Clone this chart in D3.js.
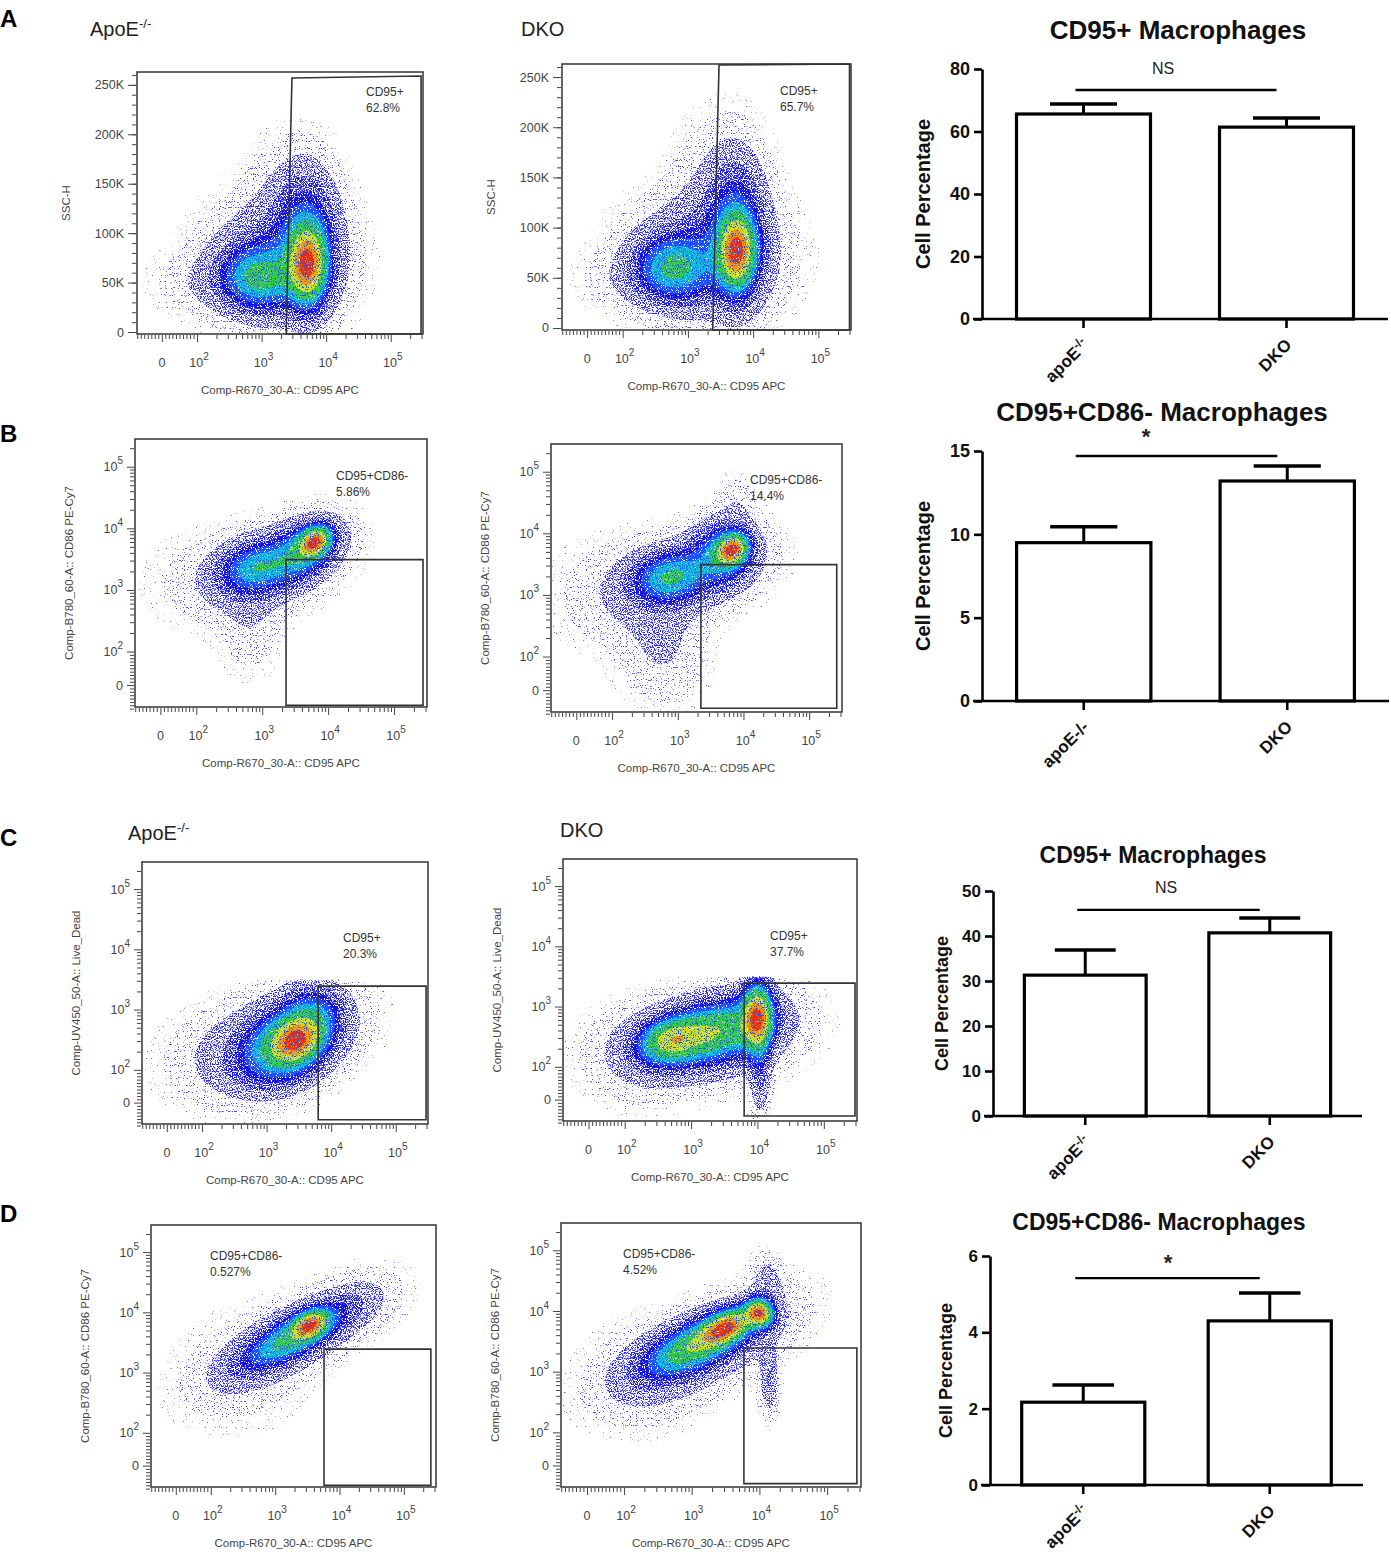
<!DOCTYPE html>
<html>
<head>
<meta charset="utf-8">
<script src="https://cdn.jsdelivr.net/npm/d3@7"></script>
<style>
  body { margin: 0; background: #fff; }
  svg text { font-family: "Liberation Sans", Arial, sans-serif; }
</style>
</head>
<body>
<svg id="fig" width="1391" height="1554"></svg>
<script>
// ---------------- data ----------------

// bar charts (right column)
const groups = ["apoE-/-", "DKO"];
const barTitles = ["CD95+ Macrophages", "CD95+CD86- Macrophages", "CD95+ Macrophages", "CD95+CD86- Macrophages"];
const meansA = [65.6, 61.4], errA = [3.2, 2.9];
const meansB = [9.5, 13.2],  errB = [0.95, 0.9];
const meansC = [31.3, 40.7], errC = [5.6, 3.3];
const meansD = [2.17, 4.30], errD = [0.45, 0.73];
const sigText = ["NS", "*", "NS", "*"];
const sigLevel = [73.3, 14.7, 45.8, 5.42];
const yMax = [80, 15, 50, 6];
const yTicks = [[0, 20, 40, 60, 80], [0, 5, 10, 15], [0, 10, 20, 30, 40, 50], [0, 2, 4, 6]];

// flow plots: names and gate statistics
const xAxisName = "Comp-R670_30-A:: CD95 APC";
const yAxisNames = ["SSC-H", "SSC-H",
  "Comp-B780_60-A:: CD86 PE-Cy7", "Comp-B780_60-A:: CD86 PE-Cy7",
  "Comp-UV450_50-A:: Live_Dead", "Comp-UV450_50-A:: Live_Dead",
  "Comp-B780_60-A:: CD86 PE-Cy7", "Comp-B780_60-A:: CD86 PE-Cy7"];
const gateNames = ["CD95+", "CD95+", "CD95+CD86-", "CD95+CD86-", "CD95+", "CD95+", "CD95+CD86-", "CD95+CD86-"];
const gatePcts = ["62.8%", "65.7%", "5.86%", "14.4%", "20.3%", "37.7%", "0.527%", "4.52%"];

// axis tick values (fluorescence units)
const majorTicks = [0, 100, 1000, 10000, 100000];
const minorMult = [2, 3, 4, 5, 6, 7, 8, 9];
const linearTicks = [-70, -60, -50, -40, -30, -20, -10, 10, 20, 30, 40, 50, 60, 70, 80, 90];
const sscTicks = [0, 10000, 20000, 30000, 40000, 50000, 60000, 70000, 80000, 90000, 100000, 110000, 120000,
  130000, 140000, 150000, 160000, 170000, 180000, 190000, 200000, 210000, 220000, 230000, 240000, 250000, 260000];
const sscLabelled = [0, 50000, 100000, 150000, 200000, 250000];

// gate polygons [CD95, y-parameter]
const gateA1 = [[2400, -2000], [2950, 257000], [295000, 259000], [295000, -2000]];
const gateA2 = [[2400, -2000], [3000, 262000], [300000, 263000], [300000, -2000]];
const gateB1 = [[2300, -60], [2300, 3100], [275000, 3100], [275000, -60]];
const gateB2 = [[2250, -54], [2250, 3100], [263000, 3100], [263000, -54]];
const gateC1 = [[6300, -52], [6300, 2450], [295000, 2450], [295000, -52]];
const gateC2 = [[6300, -50], [6300, 2450], [295000, 2450], [295000, -50]];
const gateD1 = [[5750, -60], [5750, 2450], [263000, 2450], [263000, -60]];
const gateD2 = [[5900, -55], [5900, 2450], [275000, 2450], [275000, -55]];

// event clouds:
// [CD95 centre, y centre, spread x (decades), spread y (decades or SSC units), tilt deg, weight]
const cloudA1 = [
  [5200, 68000, 0.18, 24000, 0, 1.0],
  [5000, 92000, 0.30, 42000, 0, 0.3],
  [890, 55000, 0.36, 20000, 0, 0.45],
  [1600, 70000, 0.65, 38000, 0, 0.2],
  [160, 50000, 0.55, 20000, 0, 0.05],
  [3000, 135000, 0.45, 40000, 0, 0.06]
];
const cloudA2 = [
  [5600, 76000, 0.17, 22000, 0, 1.0],
  [5600, 96000, 0.28, 45000, 0, 0.3],
  [590, 60000, 0.35, 20000, 0, 0.45],
  [1800, 70000, 0.7, 38000, 0, 0.2],
  [150, 50000, 0.5, 20000, 0, 0.05],
  [3000, 140000, 0.45, 45000, 0, 0.06]
];
const cloudB1 = [
  [6300, 6000, 0.16, 0.13, 40, 1.0],
  [4500, 4500, 0.35, 0.25, 35, 0.45],
  [780, 2300, 0.35, 0.25, 15, 0.38],
  [1500, 2500, 0.65, 0.4, 20, 0.16],
  [650, 300, 0.3, 0.55, 0, 0.05],
  [120, 1500, 0.6, 0.5, 0, 0.03]
];
const cloudB2 = [
  [6800, 5400, 0.16, 0.14, 45, 1.0],
  [5000, 5000, 0.3, 0.3, 45, 0.4],
  [760, 1950, 0.35, 0.25, 10, 0.42],
  [1500, 2200, 0.7, 0.4, 15, 0.16],
  [600, 150, 0.42, 0.6, 0, 0.07],
  [100, 1000, 0.6, 0.6, 0, 0.04],
  [8000, 30000, 0.2, 0.3, 0, 0.05]
];
const cloudC1 = [
  [2950, 310, 0.25, 0.22, 35, 0.8],
  [2000, 250, 0.45, 0.35, 30, 0.6],
  [5500, 900, 0.3, 0.3, 0, 0.28],
  [1500, 300, 0.8, 0.5, 20, 0.15],
  [200, 150, 0.6, 0.5, 0, 0.04]
];
const cloudC2 = [
  [480, 275, 0.3, 0.22, 15, 0.5],
  [10000, 680, 0.14, 0.35, 0, 0.8],
  [2500, 400, 0.5, 0.3, 15, 0.45],
  [1800, 300, 0.8, 0.45, 10, 0.15],
  [11000, 80, 0.1, 0.45, 0, 0.12],
  [150, 150, 0.5, 0.5, 0, 0.04]
];
const cloudD1 = [
  [3500, 6200, 0.18, 0.13, 30, 1.0],
  [2000, 4000, 0.55, 0.2, 28, 0.6],
  [1800, 3500, 0.9, 0.35, 28, 0.16],
  [20000, 15000, 0.4, 0.3, 20, 0.05],
  [300, 1000, 0.7, 0.7, 0, 0.03]
];
const cloudD2 = [
  [10000, 9300, 0.12, 0.15, 45, 0.9],
  [3300, 5500, 0.25, 0.15, 25, 0.75],
  [1200, 2800, 0.5, 0.22, 25, 0.5],
  [1500, 2500, 0.85, 0.38, 25, 0.16],
  [14000, 700, 0.09, 0.35, 0, 0.12],
  [13000, 30000, 0.15, 0.3, 0, 0.08],
  [200, 800, 0.6, 0.6, 0, 0.03]
];
// Live/Dead channel saturates here (flat top of panel C clouds)
const liveDeadCeil = 3100;

// ---------------- layout ----------------
const svg = d3.select("#fig");
const defs = svg.append("defs");

const flowFrames = [
  { x: 137, y: 72, w: 286, h: 262 }, { x: 562, y: 64, w: 289, h: 266 },
  { x: 135, y: 439, w: 292, h: 268 }, { x: 551, y: 444, w: 291, h: 268 },
  { x: 142, y: 862, w: 286, h: 262 }, { x: 563, y: 859, w: 294, h: 262 },
  { x: 151, y: 1225, w: 285, h: 262 }, { x: 561, y: 1223, w: 300, h: 264 }
];
const gateLabelPos = [[229, 24], [218, 31], [201, 41], [199, 40], [201, 80], [207, 81], [59, 35], [62, 35]];

const flowPlots = [
  { cloud: cloudA1, gate: gateA1, linear: true },
  { cloud: cloudA2, gate: gateA2, linear: true },
  { cloud: cloudB1, gate: gateB1 },
  { cloud: cloudB2, gate: gateB2 },
  { cloud: cloudC1, gate: gateC1, ceil: liveDeadCeil },
  { cloud: cloudC2, gate: gateC2, ceil: liveDeadCeil },
  { cloud: cloudD1, gate: gateD1 },
  { cloud: cloudD2, gate: gateD2 }
];

// pseudo-colour density bands (first band = stray events far from the clusters)
const bandFrac = [0.006, 0.015, 0.045, 0.1, 0.16, 0.22, 0.29, 0.38, 0.55, 0.72, 0.87];
const bandColor = ["#5050ff", "#4040ff", "#2a2aff", "#1c1cf0", "#1414e0", "#1a50ff", "#10c4d8", "#38d040", "#d4e020", "#ff9000", "#f02a10"];
const bandFilter = ["speckStray", "speckSparse", "speckMid", "speckMid2", "speckDense", "speckDense",
  "speckCore", "speckCore", "speckCore", "speckCore", "speckCore"];

// speckle masks make the smooth density look like a dot plot
function speckle(id, bias, seed) {
  const f = defs.append("filter").attr("id", id)
    .attr("x", 0).attr("y", 0).attr("width", 1).attr("height", 1)
    .attr("color-interpolation-filters", "sRGB");
  f.append("feTurbulence").attr("type", "fractalNoise").attr("baseFrequency", 0.85)
    .attr("numOctaves", 1).attr("seed", seed).attr("result", "n");
  f.append("feColorMatrix").attr("in", "n").attr("type", "matrix")
    .attr("values", `0 0 0 0 0  0 0 0 0 0  0 0 0 0 0  -12 0 0 0 ${bias}`).attr("result", "m");
  f.append("feComposite").attr("in", "SourceGraphic").attr("in2", "m").attr("operator", "in");
}
speckle("speckStray", 3.9, 7);
speckle("speckSparse", 4.7, 7);
speckle("speckMid", 6.2, 7);
speckle("speckMid2", 6.8, 7);
speckle("speckDense", 7.7, 7);
speckle("speckCore", 7.3, 3);

// FlowJo-like display transform: log above 100, linear through 0
const ZERO = 1.455;
function bx(v) { return v >= 100 ? Math.log10(v) : ZERO + (2 - ZERO) * v / 100; }

const X_DOM = [1.07, 5.5], Y_LOG_DOM = [1.1, 5.45], Y_LIN_DOM = [-2000, 263000];
const axisGrey = "#444";

function supLabel(sel, v) {
  if (v === 0) { sel.text("0"); return; }
  sel.text("10");
  sel.append("tspan").attr("dy", -7).attr("font-size", "0.8em").text(Math.round(Math.log10(v)));
}

function flowPlot(p, i) {
  const f = flowFrames[i];
  const g = svg.append("g").attr("transform", `translate(${f.x},${f.y})`);
  const x = d3.scaleLinear().domain(X_DOM).range([0, f.w]);
  const yDom = p.linear ? Y_LIN_DOM : Y_LOG_DOM;
  const y = d3.scaleLinear().domain(yDom).range([f.h, 0]);
  const yv = p.linear ? (v => v) : bx;
  const kx = f.w / (X_DOM[1] - X_DOM[0]);
  const ky = f.h / (yDom[1] - yDom[0]);

  // density grid from the cloud descriptions
  const step = 2;
  const nx = Math.ceil(f.w / step), ny = Math.ceil(f.h / step);
  const vals = new Float64Array(nx * ny);
  const blobs = p.cloud.map(b => {
    const a = b[4] * Math.PI / 180;
    return { cx: x(bx(b[0])), cy: y(yv(b[1])), su: b[2] * kx, sv: b[3] * ky, c: Math.cos(a), s: Math.sin(a), w: b[5] };
  });
  const ceilPx = p.ceil ? y(bx(p.ceil)) : -1;
  let max = 0;
  for (let j = 0; j < ny; j++) {
    const py = (j + 0.5) * step;
    for (let k = 0; k < nx; k++) {
      const px = (k + 0.5) * step;
      let d = 0;
      if (py >= ceilPx) {
        blobs.forEach(b => {
          const dx = px - b.cx, dy = b.cy - py;
          const u = dx * b.c + dy * b.s, v = -dx * b.s + dy * b.c;
          d += b.w * Math.exp(-0.5 * (u * u / (b.su * b.su) + v * v / (b.sv * b.sv)));
        });
      }
      vals[j * nx + k] = d;
      if (d > max) max = d;
    }
  }
  const contours = d3.contours().size([nx, ny]).thresholds(bandFrac.map(t => t * max))(vals);
  const geo = d3.geoPath(d3.geoIdentity().scale(step));

  const clipId = "clip" + i;
  defs.append("clipPath").attr("id", clipId).append("rect").attr("width", f.w).attr("height", f.h);
  const cg = g.append("g").attr("clip-path", `url(#${clipId})`);
  contours.forEach((c, ci) => {
    const layer = cg.append("g");
    if (bandFilter[ci]) layer.attr("filter", `url(#${bandFilter[ci]})`);
    layer.append("path").attr("d", geo(c)).attr("fill", bandColor[ci]);
  });

  // frame
  g.append("rect").attr("width", f.w).attr("height", f.h)
    .attr("fill", "none").attr("stroke", "#333").attr("stroke-width", 1.5);

  // x axis ticks
  const xMinor = [];
  majorTicks.slice(1).forEach(d => minorMult.forEach(m => { if (bx(m * d) < X_DOM[1]) xMinor.push(m * d); }));
  const xAxisG = g.append("g").attr("transform", `translate(0,${f.h + 1})`);
  xAxisG.append("g").call(d3.axisBottom(x).tickValues(xMinor.concat(linearTicks).map(bx)).tickSize(4).tickFormat(""));
  xAxisG.append("g").call(d3.axisBottom(x).tickValues(majorTicks.map(bx)).tickSize(7).tickFormat(""));
  xAxisG.selectAll(".domain").remove();
  xAxisG.selectAll("line").attr("stroke", axisGrey);
  majorTicks.forEach(v => {
    g.append("text").attr("x", x(bx(v)) + (v === 0 ? 0 : 2)).attr("y", f.h + 33)
      .attr("text-anchor", "middle").attr("font-size", 12.5).attr("fill", axisGrey)
      .call(sel => supLabel(sel, v));
  });

  // y axis ticks
  const yAxisG = g.append("g").attr("transform", "translate(-1,0)");
  if (p.linear) {
    yAxisG.append("g").call(d3.axisLeft(y).tickValues(sscTicks).tickSize(4).tickFormat(""));
    yAxisG.append("g").call(d3.axisLeft(y).tickValues(sscLabelled).tickSize(8).tickFormat(""));
    sscLabelled.forEach(v => {
      g.append("text").attr("x", -13).attr("y", y(v) + 4.5).attr("text-anchor", "end")
        .attr("font-size", 12.5).attr("fill", axisGrey).text(v === 0 ? "0" : v / 1000 + "K");
    });
  } else {
    const yMinor = [];
    majorTicks.slice(1).forEach(d => minorMult.forEach(m => { if (bx(m * d) < Y_LOG_DOM[1]) yMinor.push(m * d); }));
    yAxisG.append("g").call(d3.axisLeft(y).tickValues(yMinor.concat(linearTicks).map(bx)).tickSize(4).tickFormat(""));
    yAxisG.append("g").call(d3.axisLeft(y).tickValues(majorTicks.map(bx)).tickSize(7).tickFormat(""));
    majorTicks.forEach(v => {
      g.append("text").attr("x", -12).attr("y", y(bx(v)) + 4.5).attr("text-anchor", "end")
        .attr("font-size", 12.5).attr("fill", axisGrey)
        .call(sel => supLabel(sel, v));
    });
  }
  yAxisG.selectAll(".domain").remove();
  yAxisG.selectAll("line").attr("stroke", axisGrey);

  // axis titles
  g.append("text").attr("x", f.w / 2).attr("y", f.h + 60).attr("text-anchor", "middle")
    .attr("font-size", 11.5).attr("fill", axisGrey).text(xAxisName);
  g.append("text").attr("transform", `translate(${p.linear ? -67 : -62},${f.h / 2}) rotate(-90)`)
    .attr("text-anchor", "middle").attr("font-size", 11.5).attr("fill", axisGrey).text(yAxisNames[i]);

  // gate and its statistics
  const line = d3.line().x(d => x(bx(d[0]))).y(d => y(yv(d[1])));
  g.append("path").attr("d", line(p.gate) + "Z").attr("fill", "none")
    .attr("stroke", "#333").attr("stroke-width", 1.6);
  const lp = gateLabelPos[i];
  g.append("text").attr("x", lp[0]).attr("y", lp[1]).attr("font-size", 12).attr("fill", "#333").text(gateNames[i]);
  g.append("text").attr("x", lp[0]).attr("y", lp[1] + 16).attr("font-size", 12).attr("fill", "#333").text(gatePcts[i]);
}

flowPlots.forEach(flowPlot);

// group headings and panel letters
const headings = [[90, 36, "ApoE", "-/-"], [521, 36, "DKO", ""], [128, 840, "ApoE", "-/-"], [560, 837, "DKO", ""]];
headings.forEach(h => {
  const t = svg.append("text").attr("x", h[0]).attr("y", h[1]).attr("font-size", 20).attr("fill", "#222").text(h[2]);
  if (h[3]) t.append("tspan").attr("dy", -8).attr("font-size", 13).text(h[3]);
});
[["A", 27], ["B", 442], ["C", 846], ["D", 1222]].forEach(l => {
  svg.append("text").attr("x", 0).attr("y", l[1]).attr("font-size", 24).attr("font-weight", "bold").text(l[0]);
});

// ---------------- bar charts ----------------
const barMeans = [meansA, meansB, meansC, meansD];
const barErrs = [errA, errB, errC, errD];
const barFrames = [
  { x0: 982, x1: 1388, y0: 319, yTop: 69, titleX: 1178, titleY: 39, titleSize: 26, sigX: 1163, sigY: 74, labSize: 20, labOff: 52, tickSize: 18 },
  { x0: 982, x1: 1389, y0: 701, yTop: 451, titleX: 1162, titleY: 421, titleSize: 26, sigX: 1146, sigY: 444, labSize: 20, labOff: 52, tickSize: 18 },
  { x0: 993, x1: 1362, y0: 1116, yTop: 891, titleX: 1153, titleY: 863, titleSize: 23, sigX: 1166, sigY: 893, labSize: 18, labOff: 45, tickSize: 17 },
  { x0: 990, x1: 1363, y0: 1485, yTop: 1256, titleX: 1159, titleY: 1230, titleSize: 23, sigX: 1168, sigY: 1270, labSize: 18, labOff: 38, tickSize: 17 }
];
const supLabels = [true, false, true, true];

function barChart(L, i) {
  const g = svg.append("g");
  const x = d3.scaleBand().domain(groups).range([L.x0, L.x1]);
  const y = d3.scaleLinear().domain([0, yMax[i]]).range([L.y0, L.yTop]);
  const bw = x.bandwidth() * 0.66;
  const cx = d => x(d) + x.bandwidth() / 2;
  const means = barMeans[i], errs = barErrs[i];

  g.append("text").attr("x", L.titleX).attr("y", L.titleY).attr("text-anchor", "middle")
    .attr("font-size", L.titleSize).attr("font-weight", "bold").attr("fill", "#111").text(barTitles[i]);

  // error bars (upper only, drawn before bars)
  groups.forEach((grp, k) => {
    const top = y(means[k] + errs[k]);
    g.append("line").attr("x1", cx(grp)).attr("x2", cx(grp)).attr("y1", y(means[k])).attr("y2", top)
      .attr("stroke", "#000").attr("stroke-width", 3);
    g.append("line").attr("x1", cx(grp) - bw * 0.25).attr("x2", cx(grp) + bw * 0.25).attr("y1", top).attr("y2", top)
      .attr("stroke", "#000").attr("stroke-width", 3.5);
  });

  g.selectAll("rect.bar").data(groups).enter().append("rect").attr("class", "bar")
    .attr("x", d => cx(d) - bw / 2).attr("width", bw)
    .attr("y", (d, k) => y(means[k])).attr("height", (d, k) => y(0) - y(means[k]))
    .attr("fill", "#fff").attr("stroke", "#000").attr("stroke-width", 3.2);

  // y axis
  const ya = g.append("g").attr("transform", `translate(${L.x0},0)`)
    .call(d3.axisLeft(y).tickValues(yTicks[i]).tickSize(8).tickSizeOuter(0).tickPadding(4).tickFormat(d3.format("d")));
  ya.selectAll("path, line").attr("stroke", "#000").attr("stroke-width", 2.6);
  ya.selectAll("text").attr("font-size", L.tickSize).attr("font-weight", "bold").attr("fill", "#111")
    .attr("font-family", "Liberation Sans, Arial, sans-serif");

  // x axis
  g.append("line").attr("x1", L.x0 - 9).attr("x2", L.x1).attr("y1", L.y0).attr("y2", L.y0)
    .attr("stroke", "#000").attr("stroke-width", 2.6);
  groups.forEach(grp => {
    g.append("line").attr("x1", cx(grp)).attr("x2", cx(grp)).attr("y1", L.y0).attr("y2", L.y0 + 9)
      .attr("stroke", "#000").attr("stroke-width", 2.6);
    const t = g.append("text")
      .attr("transform", `translate(${cx(grp) + 6},${L.y0 + 27}) rotate(-45)`)
      .attr("text-anchor", "end").attr("font-size", 17).attr("font-weight", "bold").attr("fill", "#111");
    if (grp === "apoE-/-" && supLabels[i]) {
      t.text("apoE");
      t.append("tspan").attr("dy", -6).attr("font-size", 12).text("-/-");
    } else {
      t.text(grp);
    }
  });

  // significance bracket
  g.append("line").attr("x1", cx(groups[0]) - 8).attr("x2", cx(groups[1]) - 10)
    .attr("y1", y(sigLevel[i])).attr("y2", y(sigLevel[i]))
    .attr("stroke", "#000").attr("stroke-width", 2.4);
  g.append("text").attr("x", L.sigX).attr("y", L.sigY)
    .attr("text-anchor", "middle").attr("font-size", sigText[i] === "*" ? 22 : 16)
    .attr("font-weight", sigText[i] === "*" ? "bold" : "normal").attr("fill", "#222").text(sigText[i]);

  g.append("text").attr("transform", `translate(${L.x0 - L.labOff},${(L.y0 + L.yTop) / 2}) rotate(-90)`)
    .attr("text-anchor", "middle").attr("font-size", L.labSize).attr("font-weight", "bold").attr("fill", "#111")
    .text("Cell Percentage");
}

barFrames.forEach(barChart);
</script>
</body>
</html>
